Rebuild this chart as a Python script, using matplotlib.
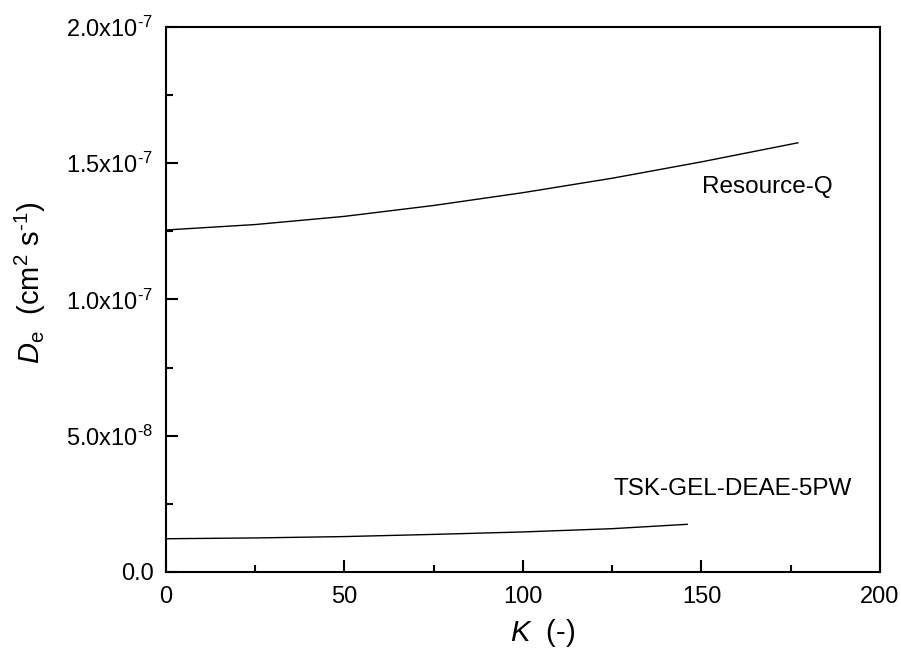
import numpy as np
import matplotlib
matplotlib.use("Agg")
import matplotlib.pyplot as plt
from matplotlib.ticker import FixedLocator, FixedFormatter, MultipleLocator

plt.rcParams['font.family'] = ['Liberation Sans', 'DejaVu Sans']
plt.rcParams['mathtext.fontset'] = 'custom'
plt.rcParams['mathtext.rm'] = 'Liberation Sans'
plt.rcParams['mathtext.it'] = 'Liberation Sans:italic'

# effective diffusivity vs. K for the two resins
k_resq = [0, 25, 50, 75, 100, 125, 150, 177]
de_resq = [1.255e-7, 1.275e-7, 1.305e-7, 1.345e-7, 1.392e-7, 1.445e-7, 1.505e-7, 1.575e-7]

k_tsk = [0, 25, 50, 75, 100, 125, 146]
de_tsk = [1.22e-8, 1.25e-8, 1.30e-8, 1.38e-8, 1.47e-8, 1.59e-8, 1.75e-8]

y_ticks = [0.0, 5.0e-8, 1.0e-7, 1.5e-7, 2.0e-7]
y_labels = ["0.0", r"5.0x10$^{\text{-8}}$", r"1.0x10$^{\text{-7}}$",
            r"1.5x10$^{\text{-7}}$", r"2.0x10$^{\text{-7}}$"]
x_ticks = [0, 50, 100, 150, 200]


fig = plt.figure(figsize=(9.01, 6.5), dpi=100)
ax = fig.add_axes([0.1842, 0.12, 0.7925, 0.8385])

ax.plot(k_resq, de_resq, color="black", lw=1.0)
ax.plot(k_tsk, de_tsk, color="black", lw=1.0)

ax.text(0.842, 0.706, "Resource-Q", transform=ax.transAxes,
        fontsize=17.5, ha="center", va="center")
ax.text(0.794, 0.152, "TSK-GEL-DEAE-5PW", transform=ax.transAxes,
        fontsize=17.5, ha="center", va="center")

ax.set_xlim(0, 200)
ax.set_ylim(0, 2.0e-7)
ax.xaxis.set_major_locator(FixedLocator(x_ticks))
ax.xaxis.set_minor_locator(MultipleLocator(25))
ax.yaxis.set_major_locator(FixedLocator(y_ticks))
ax.yaxis.set_major_formatter(FixedFormatter(y_labels))
ax.yaxis.set_minor_locator(MultipleLocator(2.5e-8))

ax.tick_params(which="both", direction="in", top=False, right=False,
               width=1.5, labelsize=17)
ax.tick_params(which="major", length=8.6)
ax.tick_params(which="minor", length=4.8)
ax.tick_params(axis="x", pad=10)
ax.tick_params(axis="y", pad=9)
for spine in ax.spines.values():
    spine.set_linewidth(1.5)

ax.set_xlabel(r"$K$  (-)", fontsize=21)
ax.set_ylabel(r"$D_{\mathrm{e}}$  (cm$^2$ s$^{\text{-1}}$)", fontsize=21)
ax.xaxis.set_label_coords(0.528, -0.082)
ax.yaxis.set_label_coords(-0.165, 0.53)

fig.savefig("out.png", dpi=100)
